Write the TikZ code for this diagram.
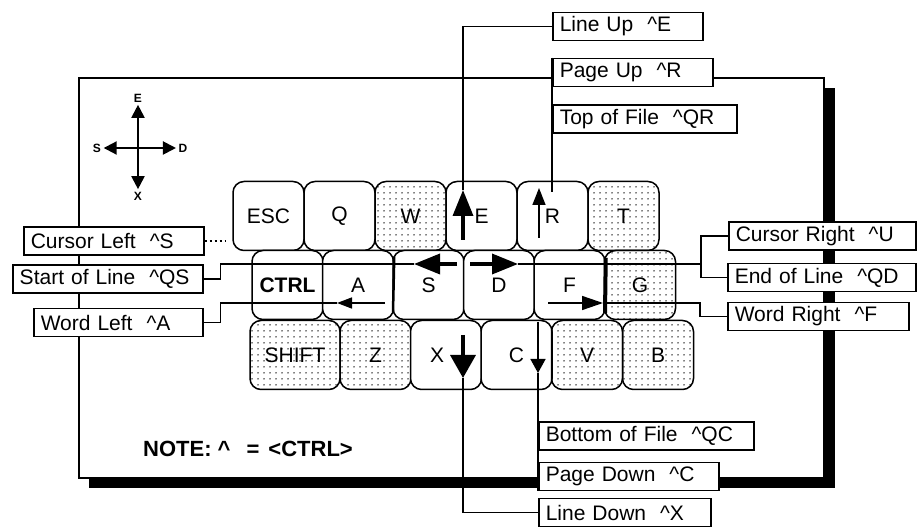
\documentclass[tikz,border=0pt]{standalone}
\usepackage{fontspec}
\setmainfont{Liberation Sans}
\usetikzlibrary{arrows.meta,patterns.meta}

\tikzset{
  key/.style={draw, line width=1.5pt, rounded corners=11pt, fill=white,
    minimum width=71pt, minimum height=69pt, inner sep=0pt,
    font=\fontsize{21}{24}\selectfont},
  keydot/.style={draw, line width=1.5pt, rounded corners=11pt,
    pattern={Dots[distance=6pt, radius=0.75pt]},
    minimum width=71pt, minimum height=69pt, inner sep=0pt,
    font=\fontsize{21}{24}\selectfont},
  lbl/.style={draw, line width=1.5pt, fill=white, anchor=west, align=left,
    minimum height=28pt, inner xsep=7pt, inner ysep=0pt,
    font=\fontsize{21}{24}\selectfont},
  conn/.style={line width=1.5pt},
  bigarw/.style={line width=3.5pt, -{Triangle[length=26pt, width=20pt]}},
  smallarw/.style={line width=1.5pt, -{Triangle[length=17pt, width=13pt]}},
  cmparw/.style={line width=2pt, -{Triangle[length=13pt, width=13pt]}},
  cmplbl/.style={inner sep=2.5pt, font=\fontsize{12}{14}\selectfont\bfseries}
}

\begin{document}
\begin{tikzpicture}[x=1pt,y=1pt,yscale=-1,xscale=1]
\useasboundingbox (0,0) rectangle (919,529);

%Shape: Frame shadow
\fill (89,88) rectangle (835,488);
%Shape: Frame
\draw [line width=1.5pt, fill=white] (79,78) rectangle (824,478);

%Shape: Compass
\coordinate (cmp) at (138,148);
\node [cmplbl] (cmpe) at (138,98) {E};
\node [cmplbl] (cmpx) at (138,196) {X};
\node [cmplbl] (cmps) at (97,148) {S};
\node [cmplbl] (cmpd) at (183,148) {D};
\draw [cmparw] (cmp) -- (cmpe);
\draw [cmparw] (cmp) -- (cmpx);
\draw [cmparw] (cmp) -- (cmps);
\draw [cmparw] (cmp) -- (cmpd);

% Keys, top row
\node [key] (esc) at (268.5,216) {ESC};
\node [key] (q) at (339.5,216) {Q};
\node [keydot] (w) at (410.5,216) {W};
\node [key] (e) at (481.5,216) {E};
\node [key] (r) at (552.5,216) {R};
\node [keydot] (t) at (623.5,216) {T};
% Keys, home row
\node [key] (ctrl) at (287.5,285) {\bfseries CTRL};
\node [key] (a) at (358,285) {A};
\node [key] (s) at (428.5,285) {S};
\node [key] (d) at (499,285) {D};
\node [key] (f) at (569.5,285) {F};
\node [keydot] (g) at (640,285) {G};
% Keys, bottom row
\node [keydot, minimum width=90pt] (shift) at (295,355) {SHIFT};
\node [keydot] (z) at (375.5,355) {Z};
\node [key, label={[xshift=-9pt, font=\fontsize{21}{24}\selectfont]center:X}] (x) at (446,355) {};
\node [key] (c) at (516.5,355) {C};
\node [keydot] (v) at (587,355) {V};
\node [keydot] (b) at (658,355) {B};

%Straight Lines: heavy key edges
\draw [line width=4pt] (f.north east) ++(0,8) -- (605,313);
\draw [line width=2.5pt] (a.north east) ++(0,7) -- (393,312);

% Arrow ends inside the keys
\coordinate (e0) at (463,240);
\coordinate (e1) at (463,190);
\coordinate (r0) at (539,238);
\coordinate (r1) at (539,188);
\coordinate (s0) at (457,264);
\coordinate (s1) at (414,264);
\coordinate (d0) at (470,264);
\coordinate (d1) at (518,264);
\coordinate (a0) at (385,303);
\coordinate (a1) at (337,303);
\coordinate (f0) at (548,303);
\coordinate (f1) at (603,303);
\coordinate (x0) at (463,335);
\coordinate (x1) at (463,378);
\coordinate (c0) at (538,322);
\coordinate (c1) at (538,373);
\coordinate (rlink) at (552,192);
\coordinate (rjoin) at (701,264);
\coordinate (lead) at (226,241);

%Arrows
\draw [bigarw] (e0) -- (e1);
\draw [smallarw] (r0) -- (r1);
\draw [bigarw] (s0) -- (s1);
\draw [bigarw] (d0) -- (d1);
\draw [smallarw, -{Triangle[length=15pt, width=11pt]}] (a0) -- (a1);
\draw [smallarw, -{Triangle[length=21pt, width=14pt]}] (f0) -- (f1);
\draw [bigarw, -{Triangle[length=23pt, width=25pt]}] (x0) -- (x1);
\draw [smallarw, -{Triangle[length=14pt, width=15pt]}] (c0) -- (c1);

% Text Node: labels
\node [lbl, text width=136pt] (lineup) at (552,26.5) {Line Up~ \textasciicircum E};
\node [lbl, text width=146pt] (pageup) at (552,72.5) {Page Up~ \textasciicircum R};
\node [lbl, text width=170pt] (topfile) at (552,119) {Top of File~ \textasciicircum QR};
\node [lbl, text width=173pt] (curright) at (728,236) {Cursor Right~ \textasciicircum U};
\node [lbl, text width=174pt] (endline) at (727,277.5) {End of Line~ \textasciicircum QD};
\node [lbl, text width=167pt] (wordright) at (727,316.5) {Word Right~ \textasciicircum F};
\node [lbl, text width=201pt] (botfile) at (538,436) {Bottom of File~ \textasciicircum QC};
\node [lbl, text width=166pt] (pagedown) at (538,476.5) {Page Down~ \textasciicircum C};
\node [lbl, text width=158pt] (linedown) at (538,512.5) {Line Down~ \textasciicircum X};
\node [lbl, text width=166pt] (curleft) at (23,241) {Cursor Left~ \textasciicircum S};
\node [lbl, text width=176pt] (startline) at (12,279) {Start of Line~ \textasciicircum QS};
\node [lbl, text width=155pt] (wordleft) at (33,322.5) {Word Left~ \textasciicircum A};

%Connectors
\draw [conn] (lineup.west) -| (e1);
\draw [conn] (pageup.north west) -- (rlink);
\draw [conn, dash pattern=on 2pt off 3pt] (curleft.east) -- (lead);
\draw [conn] (startline.east) -- ++(17,0) |- (s1);
\draw [conn] (wordleft.east) -- ++(17,0) |- (a1);
\draw [conn] (d1) -- (rjoin);
\draw [conn] (curright.west) -| (rjoin) |- (endline.west);
\draw [conn] (f1) -- ++(97,0) |- (wordright.west);
\draw [conn] (x1) |- (linedown.west);
\draw [conn] (c1) -- (c1 |- pagedown.south);

% Text Node
\node [font=\fontsize{22}{26}\selectfont\bfseries] (note) at (248,449) {NOTE:\ \textasciicircum\hspace{16pt}=\hspace{9pt}<CTRL>};
\end{tikzpicture}
\end{document}
